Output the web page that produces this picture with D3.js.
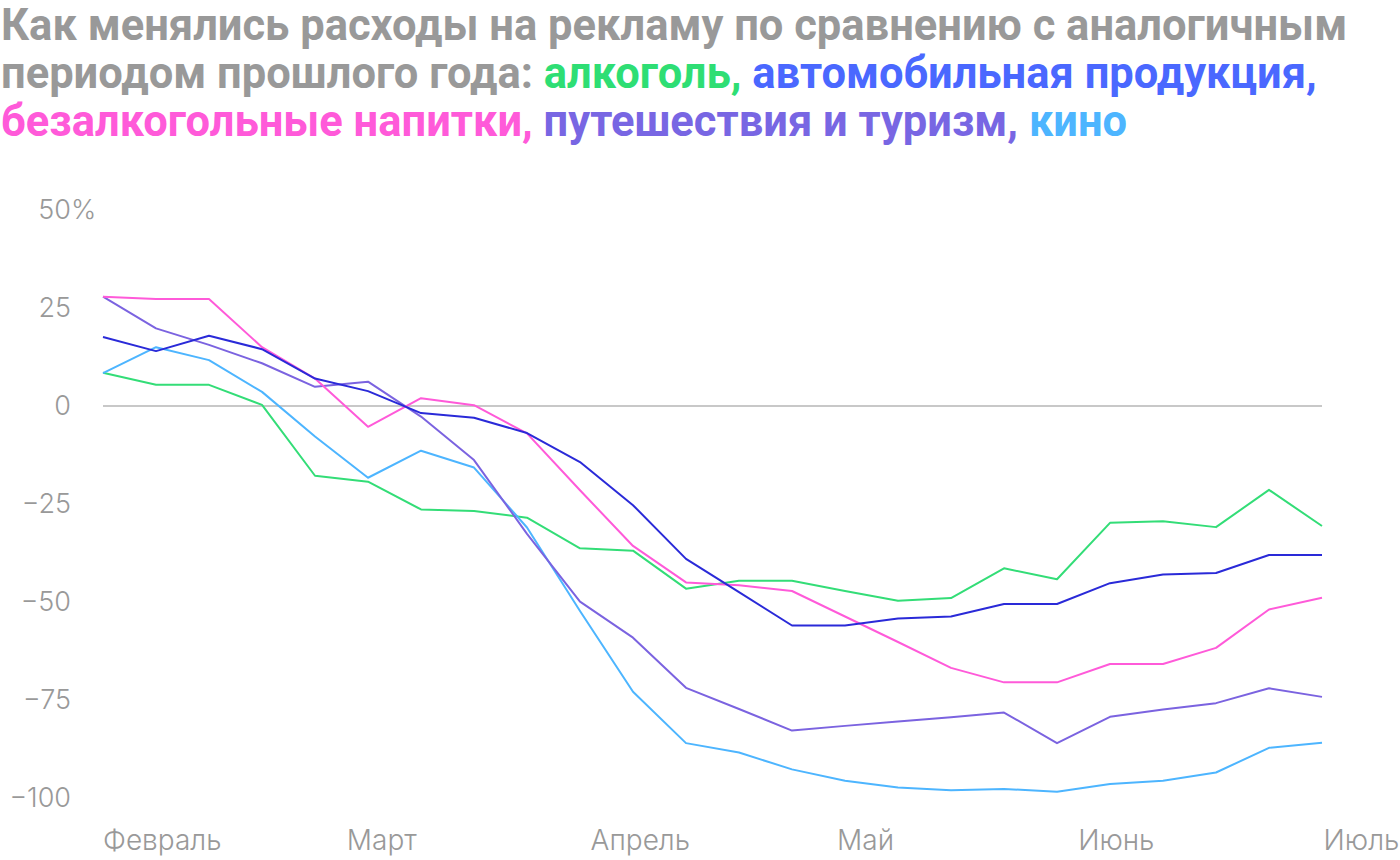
<!DOCTYPE html>
<html>
<head>
<meta charset="utf-8">
<script src="https://cdn.jsdelivr.net/npm/d3@7"></script>
<style>
    body { margin: 0; background: #fff; }
    svg { display: block; font-family: Roboto, sans-serif; }
    .title { font-size: 43.5px; font-weight: 700; fill: #999; }
    .tick-label { font-family: Inter, sans-serif; font-size: 27px; font-weight: 300; fill: #999; }
    .month-label { font-size: 28px; }
</style>
</head>
<body>
<div id="chart"></div>
<script>
// weekly points, Feb → Jul
const weeks = d3.range(24);

const alcohol = [8.5, 5.4, 5.4, 0.3, -17.8, -19.3, -26.4, -26.8, -28.5, -36.3, -36.9, -46.6,
    -44.6, -44.6, -47.2, -49.7, -49, -41.4, -44.2, -29.8, -29.4, -30.9, -21.4, -30.6];
const auto = [17.6, 14, 17.9, 14.5, 7, 3.8, -1.8, -3, -6.9, -14.3, -25.3, -39,
    -47.5, -56, -56, -54.2, -53.7, -50.5, -50.5, -45.2, -43, -42.6, -38, -38];
const softDrinks = [27.9, 27.3, 27.3, 15, 7, -5.3, 2, 0.2, -7, -21.5, -35.7, -45,
    -45.7, -47.2, -53.7, -60.2, -66.8, -70.5, -70.5, -65.8, -65.8, -61.7, -51.9, -48.9];
const travel = [27.9, 19.8, 15.6, 10.9, 4.9, 6.2, -2.7, -13.8, -32.6, -49.9, -59.1, -71.9,
    -77.3, -82.8, -81.6, -80.5, -79.4, -78.2, -86, -79.3, -77.4, -75.8, -72, -74.2];
const cinema = [8.4, 15, 11.7, 3.6, -7.8, -18.3, -11.4, -15.7, -31, -52.3, -72.9, -86,
    -88.4, -92.7, -95.6, -97.3, -98, -97.7, -98.4, -96.4, -95.6, -93.5, -87.2, -85.9];

const monthLabels = ["Февраль", "Март", "Апрель", "Май", "Июнь", "Июль"];
const monthPositions = [0, 4.6, 9.2, 13.85, 18.4, 23.03];   // in weeks

const yTicks = [50, 25, 0, -25, -50, -75, -100];

const series = [
    {name: "alcohol", values: alcohol, color: "#33dd77"},
    {name: "cinema", values: cinema, color: "#4db5ff"},
    {name: "travel", values: travel, color: "#7b63e0"},
    {name: "softDrinks", values: softDrinks, color: "#ff5ad9"},
    {name: "auto", values: auto, color: "#2a2ad8"}
];

const titleLines = [
    [{text: "Как менялись расходы на рекламу по сравнению с аналогичным", color: "#999"}],
    [{text: "периодом прошлого года: ", color: "#999"},
     {text: "алкоголь,", color: "#2ede74"},
     {text: " автомобильная продукция,", color: "#4a68ff"}],
    [{text: "безалкогольные напитки,", color: "#ff5ad9"},
     {text: " путешествия и туризм,", color: "#7866e3"},
     {text: " кино", color: "#4db5ff"}]
];

const width = 1400;
const height = 860;

const svg = d3.select("#chart").append("svg")
    .attr("width", width)
    .attr("height", height);

// title
const title = svg.append("text").attr("class", "title");
titleLines.forEach((line, i) => {
    line.forEach((part, j) => {
        const t = title.append("tspan")
            .style("fill", part.color)
            .text(part.text);
        if (j === 0) t.attr("x", 1).attr("y", 40 + i * 48);
    });
});

const x = d3.scaleLinear().domain([0, 23]).range([103, 1322]);
const y = d3.scaleLinear().domain([-100, 50]).range([798, 210]);

// y labels
svg.append("g").selectAll("text")
    .data(yTicks)
    .enter()
    .append("text")
    .attr("class", "tick-label")
    .attr("x", 71)
    .attr("y", d => y(d))
    .attr("dy", "0.35em")
    .attr("text-anchor", "end")
    .text(d => (d < 0 ? "\u2212" + Math.abs(d) : d));

svg.append("text")
    .attr("class", "tick-label")
    .attr("x", 71)
    .attr("y", y(50))
    .attr("dy", "0.35em")
    .text("%");

// x labels
svg.append("g").selectAll("text")
    .data(monthLabels)
    .enter()
    .append("text")
    .attr("class", "tick-label month-label")
    .attr("x", (d, i) => x(monthPositions[i]))
    .attr("y", 850)
    .text(d => d);

// zero line
svg.append("line")
    .attr("x1", x(0)).attr("x2", x(23))
    .attr("y1", y(0)).attr("y2", y(0))
    .attr("stroke", "#c8c8c8")
    .attr("stroke-width", 2);

const line = d3.line()
    .x((d, i) => x(weeks[i]))
    .y(d => y(d));

svg.append("g").selectAll("path")
    .data(series)
    .enter()
    .append("path")
    .attr("d", d => line(d.values))
    .attr("fill", "none")
    .attr("stroke", d => d.color)
    .attr("stroke-width", 2)
    .attr("stroke-linejoin", "round");
</script>
</body>
</html>
